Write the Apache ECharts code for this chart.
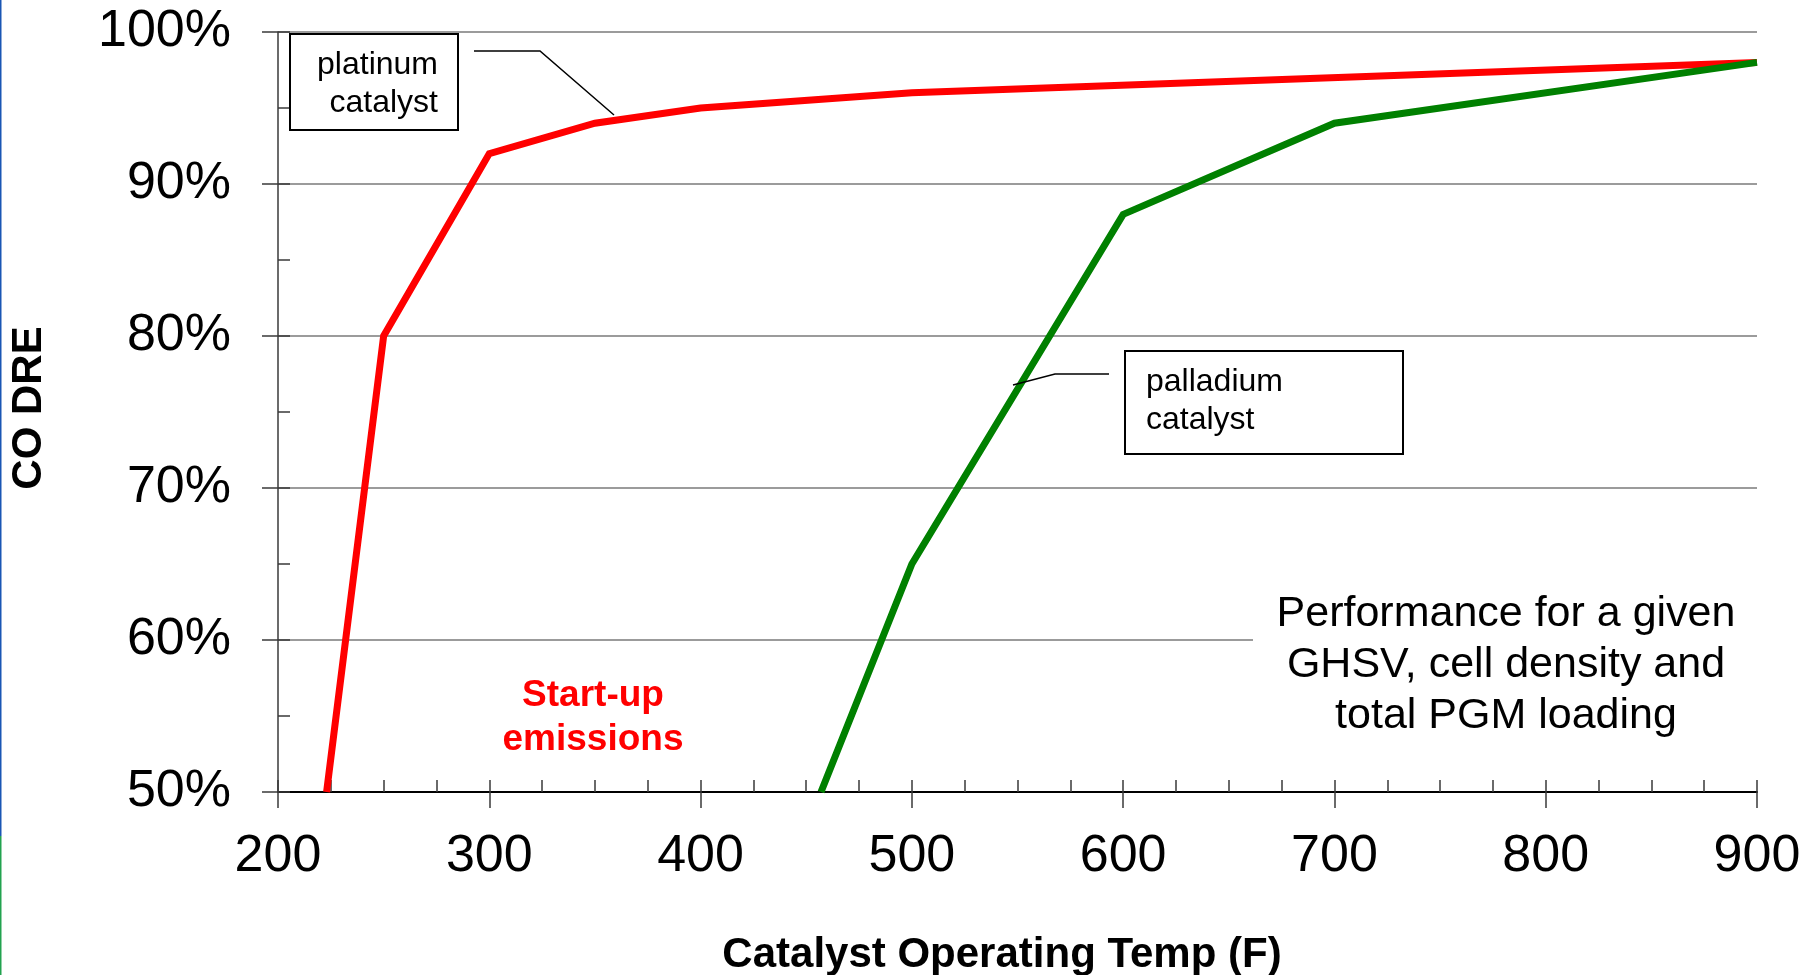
<!DOCTYPE html>
<html>
<head>
<meta charset="utf-8">
<title>CO DRE vs Catalyst Operating Temp</title>
<script src="https://cdn.jsdelivr.net/npm/echarts@6/dist/echarts.min.js"></script>
<style>
  html, body { margin: 0; padding: 0; background: #ffffff; }
  #chart { width: 1806px; height: 975px; }
</style>
</head>
<body>
<div id="chart"></div>
<script>
// Destruction/removal efficiency of CO against catalyst temperature
const platinumTemp = [223, 250, 300, 350, 400, 500, 900];
const platinumDRE  = [50, 80, 92, 94, 95, 96, 98];
const palladiumTemp = [457, 500, 600, 700, 900];
const palladiumDRE  = [50, 65, 88, 94, 98];

const xTicks = { min: 200, max: 900, major: 100, minor: 25 };
const yTicks = { min: 50, max: 100, major: 10, minor: 5 };

const xTitle = 'Catalyst Operating Temp (F)';
const yTitle = 'CO DRE';
const platinumLabel = ['platinum', 'catalyst'];
const palladiumLabel = ['palladium', 'catalyst'];
const noteLines = ['Performance for a given', 'GHSV, cell density and', 'total PGM loading'];
const startupLines = ['Start-up', 'emissions'];

const FONT = "'Liberation Sans', Arial, Helvetica, sans-serif";

function pairs(xs, ys) { return xs.map((x, i) => [x, ys[i]]); }

const chart = echarts.init(document.getElementById('chart'), null, { renderer: 'canvas' });

const tickStyle = { color: '#3a3a3a', width: 1.5 };

function textEl(x, y, text, size, opts) {
  return Object.assign({
    type: 'text', x: x, y: y, z: 20,
    style: Object.assign({
      text: text, fill: '#000', font: (opts && opts.weight ? opts.weight + ' ' : '') + size + 'px ' + FONT,
      textAlign: 'center', textVerticalAlign: 'middle'
    }, opts && opts.style)
  }, opts && opts.el);
}

const option = {
  backgroundColor: '#ffffff',
  animation: false,
  grid: { left: 278, right: 49, top: 32, bottom: 183 },
  xAxis: [
    {
      type: 'value', min: xTicks.min, max: xTicks.max, interval: xTicks.major,
      axisLine: { show: true, lineStyle: { color: '#000', width: 2 } },
      axisTick: { show: true, inside: false, length: 16, lineStyle: tickStyle },
      axisLabel: { color: '#000', fontSize: 52, fontFamily: FONT, margin: 39 },
      splitLine: { show: false }
    },
    {
      type: 'value', position: 'bottom', offset: 0,
      min: xTicks.min, max: xTicks.max, interval: xTicks.minor,
      axisLine: { show: false },
      axisTick: { show: true, inside: true, length: 12, lineStyle: tickStyle },
      axisLabel: { show: false },
      splitLine: { show: false }
    }
  ],
  yAxis: [
    {
      type: 'value', min: yTicks.min, max: yTicks.max, interval: yTicks.major,
      axisLine: { show: true, lineStyle: { color: '#3a3a3a', width: 1.5 } },
      axisTick: { show: true, inside: false, length: 16, lineStyle: tickStyle },
      axisLabel: { color: '#000', fontSize: 52, fontFamily: FONT, margin: 47, formatter: '{value}%' },
      splitLine: { show: true, lineStyle: { color: '#7a7a7a', width: 1.5 } }
    },
    {
      type: 'value', position: 'left', offset: 0,
      min: yTicks.min, max: yTicks.max, interval: yTicks.minor,
      axisLine: { show: false },
      axisTick: { show: true, inside: true, length: 12, lineStyle: tickStyle },
      axisLabel: { show: false },
      splitLine: { show: false }
    }
  ],
  series: [
    {
      name: 'platinum catalyst', type: 'line', xAxisIndex: 0, yAxisIndex: 0,
      data: pairs(platinumTemp, platinumDRE),
      showSymbol: false, z: 3,
      lineStyle: { color: '#ff0000', width: 7, join: 'miter' }
    },
    {
      name: 'palladium catalyst', type: 'line', xAxisIndex: 0, yAxisIndex: 0,
      data: pairs(palladiumTemp, palladiumDRE),
      showSymbol: false, z: 4,
      lineStyle: { color: '#008000', width: 7, join: 'miter' }
    }
  ],
  graphic: [
    // page edge rule
    { type: 'rect', z: 20, shape: { x: 0, y: 0, width: 1.5, height: 836 }, style: { fill: '#1a56b4' } },
    { type: 'rect', z: 20, shape: { x: 0, y: 836, width: 1.5, height: 139 }, style: { fill: '#22a24f' } },

    // note panel
    { type: 'rect', z: 15, shape: { x: 1253, y: 590, width: 510, height: 150 }, style: { fill: '#ffffff' } },
    textEl(1506, 614, noteLines[0], 43),
    textEl(1506, 665, noteLines[1], 43),
    textEl(1506, 716, noteLines[2], 43),

    // start-up emissions
    textEl(593, 696, startupLines[0], 37, { weight: 'bold', style: { fill: '#ff0000' } }),
    textEl(593, 740, startupLines[1], 37, { weight: 'bold', style: { fill: '#ff0000' } }),

    // platinum callout
    { type: 'rect', z: 15, shape: { x: 290, y: 34, width: 168, height: 96 }, style: { fill: '#ffffff', stroke: '#000', lineWidth: 2 } },
    textEl(438, 65, platinumLabel[0], 32, { style: { textAlign: 'right' } }),
    textEl(438, 103, platinumLabel[1], 32, { style: { textAlign: 'right' } }),
    { type: 'polyline', z: 15, shape: { points: [[474, 51], [540, 51], [614, 115]] }, style: { stroke: '#000', lineWidth: 1.5, fill: null } },

    // palladium callout
    { type: 'rect', z: 15, shape: { x: 1125, y: 351, width: 278, height: 103 }, style: { fill: '#ffffff', stroke: '#000', lineWidth: 2 } },
    textEl(1146, 382, palladiumLabel[0], 32, { style: { textAlign: 'left' } }),
    textEl(1146, 420, palladiumLabel[1], 32, { style: { textAlign: 'left' } }),
    { type: 'polyline', z: 15, shape: { points: [[1109, 374], [1055, 374], [1013, 385]] }, style: { stroke: '#000', lineWidth: 1.5, fill: null } },

    // axis titles
    textEl(1002, 955, xTitle, 42, { weight: 'bold' }),
    textEl(29, 408, yTitle, 42, { weight: 'bold', el: { rotation: Math.PI / 2 } })
  ]
};

chart.setOption(option);
</script>
</body>
</html>
